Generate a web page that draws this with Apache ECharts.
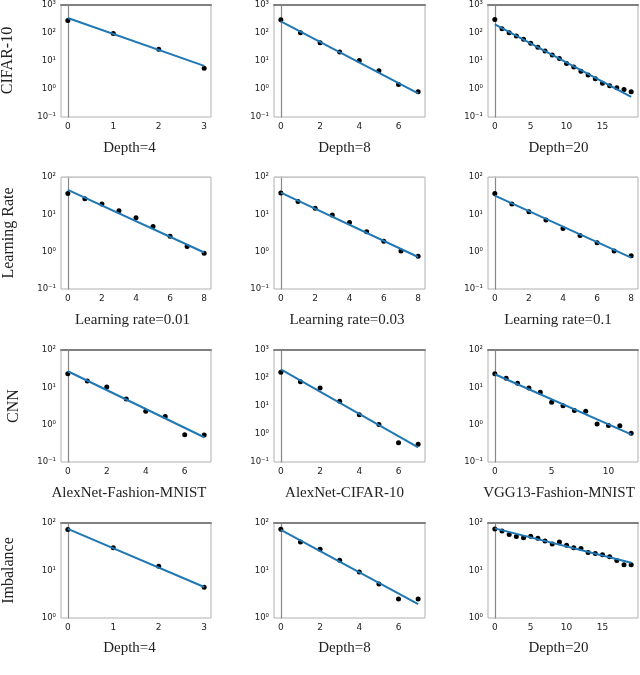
<!DOCTYPE html>
<html><head><meta charset="utf-8">
<script src="https://cdn.jsdelivr.net/npm/echarts@6/dist/echarts.min.js"></script>
<style>html,body{margin:0;padding:0;background:#fff}#c{width:640px;height:675px}</style>
</head><body><div id="c"></div>
<script>
// ---------- data ----------
const cifarDepth4 = [270, 93, 25.6, 5.4];
const cifarDepth4Fit = [330, 6.6];
const cifarDepth8 = [288, 100, 44, 20.5, 10.2, 4.4, 1.44, 0.79];
const cifarDepth8Fit = [250, 0.69];
const cifarDepth20 = [290, 138, 100, 76, 58, 42, 30, 22, 16, 12, 8, 6, 4.2, 3.1, 2.3, 1.6, 1.28, 1.1, 0.95, 0.79];
const cifarDepth20Fit = [195, 0.52];
const lr001 = [36, 26, 19, 12.5, 8.1, 4.7, 2.6, 1.38, 0.90];
const lr001Fit = [45, 0.95];
const lr003 = [37, 22, 14.5, 9.6, 6.0, 3.4, 1.9, 1.05, 0.75];
const lr003Fit = [38, 0.72];
const lr01 = [36, 19, 11.8, 7.0, 4.2, 2.7, 1.74, 1.05, 0.78];
const lr01Fit = [31.6, 0.69];
const alexFashion = [23, 14.8, 10.2, 4.9, 2.3, 1.66, 0.54, 0.53];
const alexFashionFit = [27, 0.46];
const alexCifar = [160, 74, 44, 14.7, 4.9, 2.2, 0.49, 0.43];
const alexCifarFit = [204, 0.33];
const vggFashion = [23, 17.4, 12.8, 9.6, 7.4, 4.0, 3.2, 2.4, 2.3, 1.05, 0.95, 0.94, 0.59];
const vggFashionFit = [22.4, 0.55];
const imbDepth4 = [73, 30, 12.3, 4.45];
const imbDepth4Fit = [75, 4.5];
const imbDepth8 = [74, 40, 28, 16.5, 9.3, 5.2, 2.5, 2.5];
const imbDepth8Fit = [72, 1.95];
const imbDepth20 = [75, 68, 57, 52, 49, 52.5, 48, 42, 36, 40, 34, 30, 29, 24, 22.7, 21.5, 19.4, 16.3, 13.2, 13.2];
const imbDepth20Fit = [77, 14.5];

const rowLabels = ['CIFAR-10', 'Learning Rate', 'CNN', 'Imbalance'];
const panelTitles = [
  ['Depth=4', 'Depth=8', 'Depth=20'],
  ['Learning rate=0.01', 'Learning rate=0.03', 'Learning rate=0.1'],
  ['AlexNet-Fashion-MNIST', 'AlexNet-CIFAR-10', 'VGG13-Fashion-MNIST'],
  ['Depth=4', 'Depth=8', 'Depth=20']
];
const xTickValues = [
  [[0, 1, 2, 3], [0, 2, 4, 6], [0, 5, 10, 15]],
  [[0, 2, 4, 6, 8], [0, 2, 4, 6, 8], [0, 2, 4, 6, 8]],
  [[0, 2, 4, 6], [0, 2, 4, 6], [0, 5, 10]],
  [[0, 1, 2, 3], [0, 2, 4, 6], [0, 5, 10, 15]]
];
const yRanges = [
  [[0.1, 1000], [0.1, 1000], [0.1, 1000]],
  [[0.1, 100], [0.1, 100], [0.1, 100]],
  [[0.1, 100], [0.1, 1000], [0.1, 100]],
  [[1, 100], [1, 100], [1, 100]]
];
const panelData = [
  [[cifarDepth4, cifarDepth4Fit], [cifarDepth8, cifarDepth8Fit], [cifarDepth20, cifarDepth20Fit]],
  [[lr001, lr001Fit], [lr003, lr003Fit], [lr01, lr01Fit]],
  [[alexFashion, alexFashionFit], [alexCifar, alexCifarFit], [vggFashion, vggFashionFit]],
  [[imbDepth4, imbDepth4Fit], [imbDepth8, imbDepth8Fit], [imbDepth20, imbDepth20Fit]]
];

// ---------- layout ----------
const colLeft = [61, 274, 488];
const colWidth = [150, 151, 150];
const rowTop = [4, 177, 350, 523];
const rowHeight = [113, 112, 112, 95];
const titleY = [148, 320, 493, 648];
const titleX = [[129.5, 344.5, 558.5], [132.5, 347, 558], [129, 344.5, 559], [129.5, 344.5, 558.5]];
const rowLabelX = [8, 9, 14, 9];
const topDark = [true, false, true, true];

const sup = {'-': '⁻', '0': '⁰', '1': '¹', '2': '²', '3': '³', '4': '⁴'};
function powLabel(v) {
  const e = Math.round(Math.log10(v));
  return '10' + String(e).split('').map(c => sup[c]).join('');
}

const grids = [], xBottom = [], xTop = [], yAxes = [], series = [], graphics = [];
for (let r = 0; r < 4; r++) {
  for (let c = 0; c < 3; c++) {
    const k = r * 3 + c;
    const [ys, fit] = panelData[r][c];
    const last = ys.length - 1;
    grids.push({
      left: colLeft[c], top: rowTop[r], width: colWidth[c], height: rowHeight[r],
      show: true, borderColor: '#b0b0b0', borderWidth: 1, backgroundColor: '#fff'
    });
    xBottom.push({
      type: 'value', gridIndex: k, min: -0.05 * last, max: last * 1.05,
      axisLine: { show: false },
      axisTick: { show: false },
      axisLabel: { customValues: xTickValues[r][c], fontFamily: 'DejaVu Sans', fontSize: 9, color: '#222', margin: 5 },
      splitLine: { show: false }
    });
    xTop.push({
      type: 'value', gridIndex: k, position: 'top', min: -0.05 * last, max: last * 1.05,
      axisLine: { show: true, onZero: false, lineStyle: { color: topDark[r] ? '#808080' : '#c8c8c8', width: topDark[r] ? 2 : 1 } },
      axisTick: { show: false }, axisLabel: { show: false }, splitLine: { show: false }
    });
    yAxes.push({
      type: 'log', logBase: 10, gridIndex: k, min: yRanges[r][c][0], max: yRanges[r][c][1],
      axisLine: { show: true, lineStyle: { color: '#888', width: 1.2 } },
      axisTick: { show: false },
      minorTick: { show: false },
      axisLabel: { formatter: powLabel, fontFamily: 'DejaVu Sans', fontSize: 8.5, color: '#222', margin: 5 },
      splitLine: { show: false }
    });
    series.push({
      type: 'scatter', xAxisIndex: k, yAxisIndex: k,
      data: ys.map((v, i) => [i, v]),
      symbolSize: 5, itemStyle: { color: '#000', opacity: 1 }, z: 2
    });
    series.push({
      type: 'line', xAxisIndex: k, yAxisIndex: k,
      data: [[0, fit[0]], [last, fit[1]]],
      showSymbol: false, symbol: 'none',
      lineStyle: { color: '#1f77b4', width: 2 }, z: 3
    });
    graphics.push({
      type: 'text', x: titleX[r][c], y: titleY[r],
      style: { text: panelTitles[r][c], fontFamily: 'Liberation Serif', fontSize: 15, fill: '#222', textAlign: 'center', textVerticalAlign: 'middle' }
    });
  }
  graphics.push({
    type: 'text', x: rowLabelX[r], y: rowTop[r] + rowHeight[r] / 2, rotation: Math.PI / 2,
    style: { text: rowLabels[r], fontFamily: 'Liberation Serif', fontSize: 16, fill: '#222', textAlign: 'center', textVerticalAlign: 'middle' }
  });
}

const chart = echarts.init(document.getElementById('c'), null, { renderer: 'canvas' });
chart.setOption({
  animation: false,
  backgroundColor: '#fff',
  grid: grids,
  xAxis: xBottom.concat(xTop),
  yAxis: yAxes,
  series: series,
  graphic: graphics
});
</script>
</body></html>
